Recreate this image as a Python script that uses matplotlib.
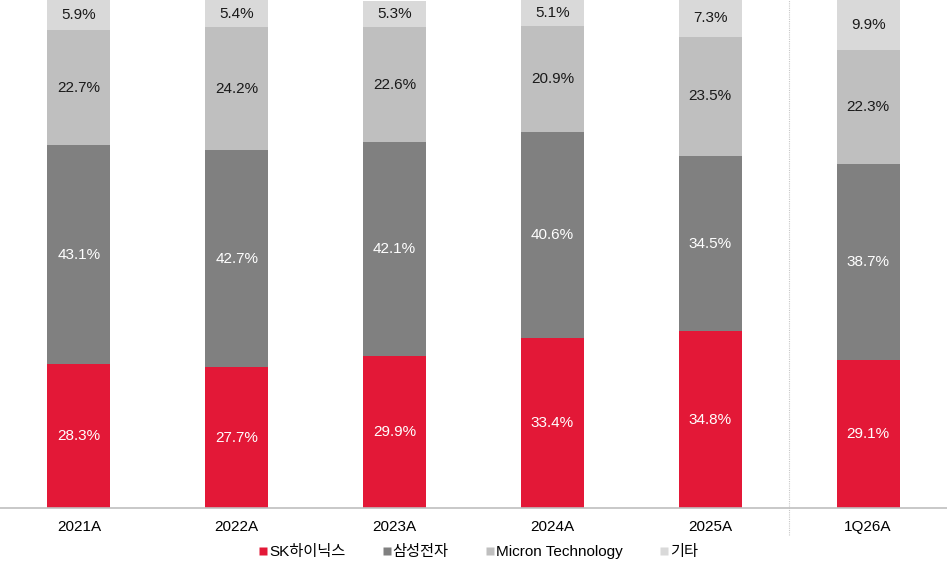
import matplotlib.pyplot as plt
from matplotlib.lines import Line2D

plt.rcParams['font.family'] = ['Liberation Sans', 'Noto Sans CJK KR']

# data
years = ['2021A', '2022A', '2023A', '2024A', '2025A', '1Q26A']
sk = [28.3, 27.7, 29.9, 33.4, 34.8, 29.1]
samsung = [43.1, 42.7, 42.1, 40.6, 34.5, 38.7]
micron = [22.7, 24.2, 22.6, 20.9, 23.5, 22.3]
others = [5.9, 5.4, 5.3, 5.1, 7.3, 9.9]
series_names = ['SK하이닉스', '삼성전자', 'Micron Technology', '기타']

colors = ['#E31837', '#808080', '#BFBFBF', '#D9D9D9']
text_colors = ['white', 'white', '#1a1a1a', '#1a1a1a']

fig = plt.figure(figsize=(9.47, 5.65), dpi=100)
ax = fig.add_axes([0, 0.1009, 1, 0.8991])

x = list(range(len(years)))
bottom = [0] * len(years)
for vals, c, tc in zip([sk, samsung, micron, others], colors, text_colors):
    ax.bar(x, vals, width=0.4, bottom=bottom, color=c, edgecolor='none')
    for xi, b, v in zip(x, bottom, vals):
        ax.text(xi, b + v / 2, f'{v:.1f}%', ha='center', va='center',
                color=tc, fontsize=11)
    bottom = [b + v for b, v in zip(bottom, vals)]

ax.set_xlim(-0.5, 5.5)
ax.set_ylim(0, 100)
ax.set_xticks(x)
ax.set_xticklabels(years, fontsize=11)
ax.tick_params(axis='x', length=0, pad=9)
ax.set_yticks([])
for s in ['top', 'left', 'right']:
    ax.spines[s].set_visible(False)
ax.spines['bottom'].set_color('#BFBFBF')
ax.spines['bottom'].set_linewidth(1.2)

# dotted separator before the quarter
ax.plot([4.5, 4.5], [-5.3, 100], linestyle=(0, (1, 1)), color='#C8C8C8',
        linewidth=0.8, clip_on=False)

handles = [Line2D([], [], marker='s', linestyle='none', markersize=6,
                  markerfacecolor=c, markeredgecolor='none') for c in colors]
ax.legend(handles, series_names, loc='center', bbox_to_anchor=(0.505, -0.087),
          ncol=4, frameon=False, fontsize=11, handlelength=0.6,
          handletextpad=0.1, columnspacing=2.4)

fig.savefig('out.png', dpi=100)
